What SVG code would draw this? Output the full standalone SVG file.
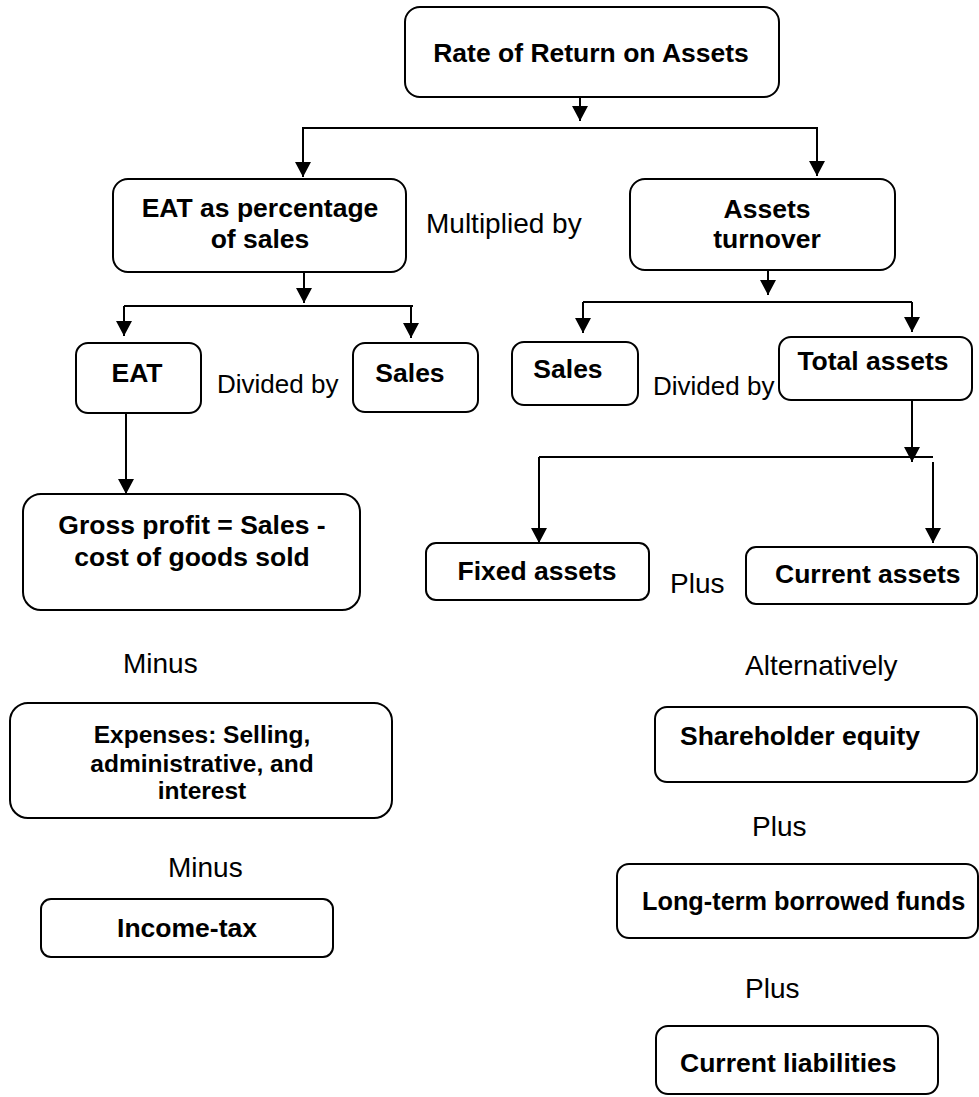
<svg xmlns="http://www.w3.org/2000/svg" width="979" height="1097" viewBox="0 0 979 1097">
  <defs>
    <marker id="arrow" markerUnits="userSpaceOnUse" markerWidth="16" markerHeight="16" refX="15" refY="8" orient="auto">
      <path d="M0,0 L15,8 L0,16 z" fill="#000"/>
    </marker>
    <style>
      .box { fill: #fff; stroke: #000; stroke-width: 2; }
      .b { font-family: "Liberation Sans", Arial, sans-serif; font-weight: bold; font-size: 26.5px; fill: #000; }
      .r { font-family: "Liberation Sans", Arial, sans-serif; font-size: 28px; fill: #000; }
      .mid { text-anchor: middle; }
      .wire { fill: none; stroke: #000; stroke-width: 2; }
      .arr { fill: none; stroke: #000; stroke-width: 2; marker-end: url(#arrow); }
    </style>
  </defs>
  <rect width="979" height="1097" fill="#fff"/>

  <!-- connectors -->
  <g id="connectors">
    <line class="arr" x1="580" y1="97" x2="580" y2="121"/>
    <polyline class="wire" points="303,177 303,128 817,128 817,175"/>
    <line class="arr" x1="303" y1="128" x2="303" y2="177"/>
    <line class="arr" x1="817" y1="128" x2="817" y2="176"/>

    <line class="arr" x1="304" y1="272" x2="304" y2="303"/>
    <line class="wire" x1="124" y1="306" x2="413" y2="306"/>
    <line class="arr" x1="124" y1="306" x2="124" y2="336"/>
    <line class="arr" x1="411" y1="307" x2="411" y2="338"/>

    <line class="arr" x1="768" y1="270" x2="768" y2="295"/>
    <line class="wire" x1="583" y1="302" x2="912" y2="302"/>
    <line class="arr" x1="583" y1="302" x2="583" y2="333"/>
    <line class="arr" x1="912" y1="302" x2="912" y2="332"/>

    <line class="arr" x1="126" y1="413" x2="126" y2="494"/>

    <line class="arr" x1="912" y1="400" x2="912" y2="462"/>
    <line class="wire" x1="539" y1="457" x2="933" y2="457"/>
    <line class="arr" x1="539" y1="457" x2="539" y2="543"/>
    <line class="arr" x1="933" y1="462" x2="933" y2="543"/>
  </g>

  <g id="rate-of-return">
    <rect class="box" x="405" y="7" width="374" height="90" rx="15"/>
    <text class="b mid" x="591" y="62">Rate of Return on Assets</text>
  </g>

  <g id="eat-percentage">
    <rect class="box" x="113" y="179" width="293" height="93" rx="15"/>
    <text class="b mid" x="260" y="217">EAT as percentage</text>
    <text class="b mid" x="260" y="248">of sales</text>
  </g>

  <text id="multiplied-by" class="r" x="426" y="233">Multiplied by</text>

  <g id="assets-turnover">
    <rect class="box" x="630" y="179" width="265" height="91" rx="15"/>
    <text class="b mid" x="767" y="218">Assets</text>
    <text class="b mid" x="767" y="248">turnover</text>
  </g>

  <g id="eat">
    <rect class="box" x="76" y="343" width="125" height="70" rx="12"/>
    <text class="b mid" x="137" y="382">EAT</text>
  </g>

  <text id="divided-by-left" class="r" x="217" y="393" style="font-size:26px">Divided by</text>

  <g id="sales-left">
    <rect class="box" x="353" y="343" width="125" height="69" rx="12"/>
    <text class="b mid" x="410" y="382">Sales</text>
  </g>

  <g id="sales-right">
    <rect class="box" x="512" y="342" width="126" height="63" rx="12"/>
    <text class="b mid" x="568" y="378">Sales</text>
  </g>

  <text id="divided-by-right" class="r" x="653" y="395" style="font-size:26px">Divided by</text>

  <g id="total-assets">
    <rect class="box" x="779" y="337" width="193" height="63" rx="12"/>
    <text class="b mid" x="873" y="370">Total assets</text>
  </g>

  <g id="gross-profit">
    <rect class="box" x="23" y="494" width="337" height="116" rx="18"/>
    <text class="b mid" x="192" y="534">Gross profit = Sales -</text>
    <text class="b mid" x="192" y="566">cost of goods sold</text>
  </g>

  <g id="fixed-assets">
    <rect class="box" x="426" y="543" width="223" height="57" rx="10"/>
    <text class="b mid" x="537" y="580">Fixed assets</text>
  </g>

  <text id="plus-assets" class="r" x="670" y="593">Plus</text>

  <g id="current-assets">
    <rect class="box" x="746" y="547" width="231" height="57" rx="10"/>
    <text class="b" x="775" y="583">Current assets</text>
  </g>

  <text id="minus-1" class="r" x="123" y="673">Minus</text>

  <text id="alternatively" class="r" x="745" y="675">Alternatively</text>

  <g id="expenses">
    <rect class="box" x="10" y="703" width="382" height="115" rx="18"/>
    <text class="b mid" x="202" y="743" style="font-size:24.5px">Expenses: Selling,</text>
    <text class="b mid" x="202" y="772" style="font-size:24.5px">administrative, and</text>
    <text class="b mid" x="202" y="799" style="font-size:24.5px">interest</text>
  </g>

  <g id="shareholder-equity">
    <rect class="box" x="655" y="707" width="322" height="75" rx="12"/>
    <text class="b" x="680" y="745">Shareholder equity</text>
  </g>

  <text id="plus-1" class="r" x="752" y="836">Plus</text>

  <text id="minus-2" class="r" x="168" y="877">Minus</text>

  <g id="income-tax">
    <rect class="box" x="41" y="899" width="292" height="58" rx="10"/>
    <text class="b mid" x="187" y="937">Income-tax</text>
  </g>

  <g id="long-term-funds">
    <rect class="box" x="617" y="864" width="361" height="74" rx="12"/>
    <text class="b" x="642" y="910" style="font-size:25.3px">Long-term borrowed funds</text>
  </g>

  <text id="plus-2" class="r" x="745" y="998">Plus</text>

  <g id="current-liabilities">
    <rect class="box" x="656" y="1026" width="282" height="68" rx="12"/>
    <text class="b" x="680" y="1072">Current liabilities</text>
  </g>
</svg>
